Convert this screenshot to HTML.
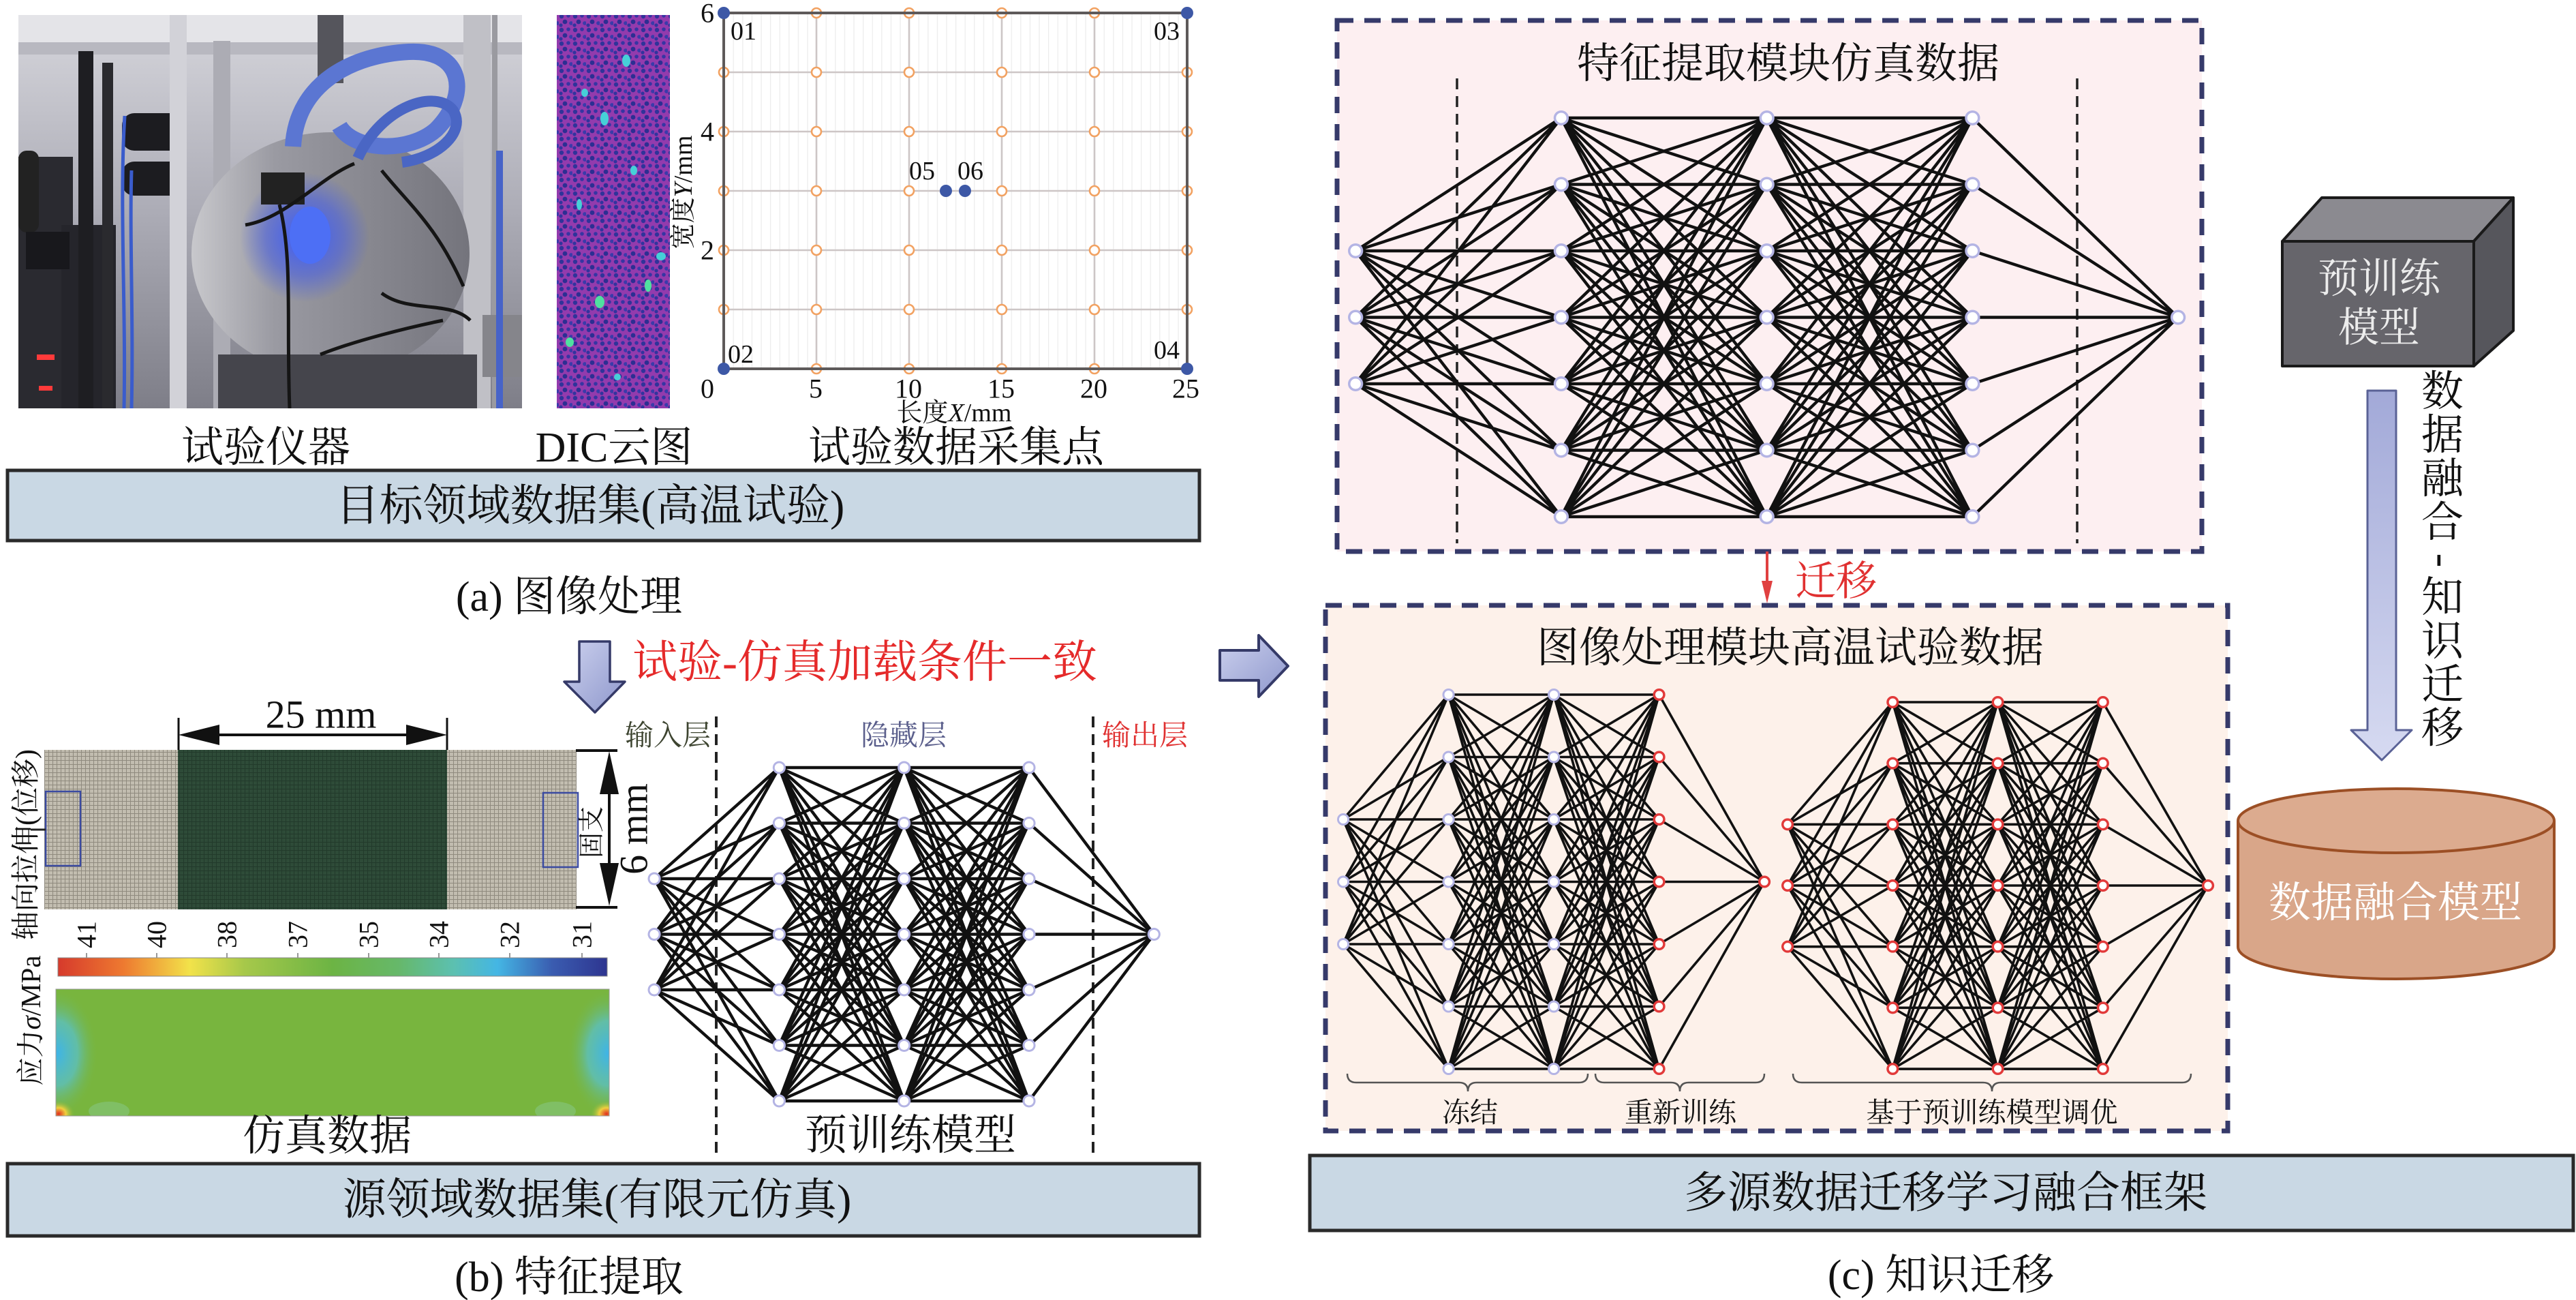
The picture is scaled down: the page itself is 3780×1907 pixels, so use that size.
<!DOCTYPE html>
<html><head><meta charset="utf-8">
<style>
html,body{margin:0;padding:0;background:#fff;}
svg{display:block;}
</style></head>
<body>
<svg width="3780" height="1907" viewBox="0 0 3780 1907" xmlns="http://www.w3.org/2000/svg" xmlns:xlink="http://www.w3.org/1999/xlink">
<defs>
<linearGradient id="cbar" x1="0" y1="0" x2="1" y2="0">
<stop offset="0" stop-color="#d63a2c"/><stop offset="0.12" stop-color="#ee7a30"/><stop offset="0.24" stop-color="#f2e24a"/><stop offset="0.34" stop-color="#a6c84a"/><stop offset="0.5" stop-color="#6cb444"/><stop offset="0.62" stop-color="#66b86a"/><stop offset="0.72" stop-color="#5cc0b0"/><stop offset="0.8" stop-color="#44b6e4"/><stop offset="0.9" stop-color="#3a5cb0"/><stop offset="1" stop-color="#2e3590"/>
</linearGradient>
<linearGradient id="arrG" x1="0" y1="0" x2="1" y2="1"><stop offset="0" stop-color="#ccd1ee"/><stop offset="1" stop-color="#8e97cc"/></linearGradient>
<linearGradient id="arrV" x1="0" y1="0" x2="0" y2="1"><stop offset="0" stop-color="#a2a9d8"/><stop offset="1" stop-color="#d6daf1"/></linearGradient>
<linearGradient id="pbg" x1="0" y1="0" x2="0" y2="1"><stop offset="0" stop-color="#d6d6dc"/><stop offset="0.5" stop-color="#acacb6"/><stop offset="1" stop-color="#7e7e88"/></linearGradient>
<linearGradient id="diskG" x1="0" y1="0" x2="1" y2="0"><stop offset="0" stop-color="#c8c8cc"/><stop offset="0.3" stop-color="#9a9aa2"/><stop offset="1" stop-color="#74747c"/></linearGradient>
<radialGradient id="glow"><stop offset="0" stop-color="#3a5cff"/><stop offset="0.6" stop-color="#4a60e0" stop-opacity="0.6"/><stop offset="1" stop-color="#4a60e0" stop-opacity="0"/></radialGradient>
<radialGradient id="cyan"><stop offset="0" stop-color="#3fb4e6"/><stop offset="0.5" stop-color="#5cc0c0" stop-opacity="0.8"/><stop offset="1" stop-color="#78b53e" stop-opacity="0"/></radialGradient>
<radialGradient id="hot"><stop offset="0" stop-color="#e03020"/><stop offset="0.45" stop-color="#f0d040"/><stop offset="1" stop-color="#78b53e" stop-opacity="0"/></radialGradient>
<pattern id="mesh" width="6" height="6" patternUnits="userSpaceOnUse"><rect width="6" height="6" fill="#c2bdb0"/><path d="M5.5 0V6M0 5.5H6" stroke="#8f8a7e" stroke-width="1"/></pattern>
<pattern id="meshg" width="6" height="6" patternUnits="userSpaceOnUse"><rect width="6" height="6" fill="#2e4b38"/><path d="M5.5 0V6M0 5.5H6" stroke="#223a2b" stroke-width="1"/></pattern>
<pattern id="dic" width="20" height="20" patternUnits="userSpaceOnUse"><rect width="20" height="20" fill="#9e3aab"/><circle cx="4" cy="4" r="3.2" fill="#2e3196"/><circle cx="14" cy="3" r="2.8" fill="#3534a0"/><circle cx="9" cy="12" r="3.4" fill="#2b2c8e"/><circle cx="18" cy="14" r="2.9" fill="#3a3aa8"/><circle cx="3" cy="17" r="2.6" fill="#31319a"/></pattern>
<pattern id="minor" x="1062" y="0" width="13.6" height="20" patternUnits="userSpaceOnUse"><rect width="13.6" height="20" fill="#fff"/><path d="M0.5 0V20" stroke="#ececec" stroke-width="1.5"/></pattern>
<clipPath id="pc"><rect x="27" y="22" width="739" height="577"/></clipPath>
<clipPath id="sc"><rect x="82" y="1451" width="812" height="186"/></clipPath>
<path id="E" fill="none" stroke="#111" stroke-linejoin="round" vector-effect="non-scaling-stroke" d="M0 2L1 0L0 2L1 1L0 2L1 2L0 2L1 3L0 2L1 4L0 2L1 5L0 2L1 6M0 3L1 0L0 3L1 1L0 3L1 2L0 3L1 3L0 3L1 4L0 3L1 5L0 3L1 6M0 4L1 0L0 4L1 1L0 4L1 2L0 4L1 3L0 4L1 4L0 4L1 5L0 4L1 6M1 0L2 0L1 0L2 1L1 0L2 2L1 0L2 3L1 0L2 4L1 0L2 5L1 0L2 6M1 1L2 0L1 1L2 1L1 1L2 2L1 1L2 3L1 1L2 4L1 1L2 5L1 1L2 6M1 2L2 0L1 2L2 1L1 2L2 2L1 2L2 3L1 2L2 4L1 2L2 5L1 2L2 6M1 3L2 0L1 3L2 1L1 3L2 2L1 3L2 3L1 3L2 4L1 3L2 5L1 3L2 6M1 4L2 0L1 4L2 1L1 4L2 2L1 4L2 3L1 4L2 4L1 4L2 5L1 4L2 6M1 5L2 0L1 5L2 1L1 5L2 2L1 5L2 3L1 5L2 4L1 5L2 5L1 5L2 6M1 6L2 0L1 6L2 1L1 6L2 2L1 6L2 3L1 6L2 4L1 6L2 5L1 6L2 6M2 0L3 0L2 0L3 1L2 0L3 2L2 0L3 3L2 0L3 4L2 0L3 5L2 0L3 6M2 1L3 0L2 1L3 1L2 1L3 2L2 1L3 3L2 1L3 4L2 1L3 5L2 1L3 6M2 2L3 0L2 2L3 1L2 2L3 2L2 2L3 3L2 2L3 4L2 2L3 5L2 2L3 6M2 3L3 0L2 3L3 1L2 3L3 2L2 3L3 3L2 3L3 4L2 3L3 5L2 3L3 6M2 4L3 0L2 4L3 1L2 4L3 2L2 4L3 3L2 4L3 4L2 4L3 5L2 4L3 6M2 5L3 0L2 5L3 1L2 5L3 2L2 5L3 3L2 5L3 4L2 5L3 5L2 5L3 6M2 6L3 0L2 6L3 1L2 6L3 2L2 6L3 3L2 6L3 4L2 6L3 5L2 6L3 6M4 3L3 0L4 3L3 1L4 3L3 2L4 3L3 3L4 3L3 4L4 3L3 5L4 3L3 6"/>
<path id="nl" fill="none" stroke-linecap="round" vector-effect="non-scaling-stroke" d="M0 2h.001M0 3h.001M0 4h.001M1 0h.001M1 1h.001M1 2h.001M1 3h.001M1 4h.001M1 5h.001M1 6h.001M2 0h.001M2 1h.001M2 2h.001M2 3h.001M2 4h.001M2 5h.001M2 6h.001"/>
<path id="nr" fill="none" stroke-linecap="round" vector-effect="non-scaling-stroke" d="M3 0h.001M3 1h.001M3 2h.001M3 3h.001M3 4h.001M3 5h.001M3 6h.001M4 3h.001"/>
<circle id="oc" r="7" fill="#fff" stroke="#f2a262" stroke-width="2.6"/>
</defs>

<!-- ================= (a) ================= -->
<g clip-path="url(#pc)">
<rect x="27" y="22" width="739" height="577" fill="url(#pbg)"/>
<rect x="27" y="22" width="739" height="40" fill="#e4e4e8"/>
<rect x="27" y="62" width="739" height="18" fill="#b8b8c0"/>
<rect x="27" y="230" width="80" height="369" fill="#2a2a30"/>
<rect x="90" y="330" width="80" height="269" fill="#25252b"/>
<rect x="115" y="75" width="22" height="524" fill="#1e1e22"/>
<rect x="150" y="92" width="16" height="507" fill="#2a2a2e"/>
<rect x="179" y="166" width="89" height="55" rx="18" fill="#1c1c20"/>
<rect x="179" y="237" width="89" height="50" rx="18" fill="#1c1c20"/>
<rect x="27" y="221" width="30" height="120" rx="12" fill="#222"/>
<rect x="38" y="340" width="64" height="55" fill="#18181c"/>
<path d="M183 170C175 300 185 450 182 599M193 250C190 350 196 470 193 599" stroke="#3a5ccc" stroke-width="5" fill="none"/>
<rect x="54" y="520" width="26" height="8" fill="#ff3a3a"/>
<rect x="57" y="566" width="20" height="7" fill="#ff3a3a"/>
<rect x="249" y="22" width="25" height="577" fill="#d2d2d8"/>
<rect x="313" y="60" width="25" height="539" fill="#acacb4"/>
<rect x="680" y="22" width="40" height="577" fill="#c0c0c6"/>
<rect x="722" y="22" width="8" height="577" fill="#9a9aa0"/>
<ellipse cx="485" cy="372" rx="204" ry="178" fill="url(#diskG)"/>
<rect x="320" y="520" width="380" height="79" fill="#45454c"/>
<rect x="708" y="462" width="58" height="91" fill="#85858b"/>
<circle cx="447" cy="348" r="95" fill="url(#glow)"/>
<ellipse cx="455" cy="345" rx="30" ry="42" fill="#4d6ff5"/>
<rect x="383" y="253" width="64" height="47" fill="#222"/>
<path d="M410 300C430 380 420 470 425 599M560 430C600 460 660 440 690 470M470 520C520 500 600 480 650 470M360 330C420 320 470 260 520 240M560 250C600 300 640 330 680 420" stroke="#151515" stroke-width="5" fill="none"/>
<rect x="466" y="22" width="38" height="100" fill="#55555c"/>
<path d="M430 215C435 120 520 80 600 76C680 72 690 140 640 190C600 225 520 222 498 185" stroke="#5b76d2" stroke-width="24" fill="none"/>
<path d="M525 232C560 155 640 130 665 162C685 195 640 232 590 238" stroke="#4a66c4" stroke-width="16" fill="none"/>
<path d="M733 221V599" stroke="#4763c8" stroke-width="10"/>
</g>

<!-- DIC -->
<rect x="817" y="22" width="166" height="577" fill="url(#dic)"/>
<rect x="817" y="22" width="166" height="577" fill="#3a40c0" opacity="0.1"/>
<g fill="#46d0d8">
<ellipse cx="919" cy="89" rx="6" ry="9"/><ellipse cx="858" cy="136" rx="5" ry="6"/><ellipse cx="887" cy="174" rx="6" ry="10"/>
<ellipse cx="970" cy="376" rx="7" ry="6"/><ellipse cx="880" cy="443" rx="7" ry="9" fill="#50e0a0"/><ellipse cx="951" cy="419" rx="5" ry="9" fill="#50e0a0"/>
<ellipse cx="836" cy="502" rx="6" ry="7" fill="#50e0a0"/><ellipse cx="906" cy="553" rx="5" ry="5"/><ellipse cx="850" cy="300" rx="4" ry="8"/><ellipse cx="930" cy="250" rx="5" ry="7"/>
</g>

<!-- plot -->
<rect x="1062" y="19" width="680" height="522" fill="url(#minor)"/>
<g stroke="#cdc6c6" stroke-width="2.6">
<path d="M1198 19V541M1334 19V541M1470 19V541M1606 19V541"/>
<path d="M1062 106H1742M1062 193H1742M1062 280H1742M1062 367H1742M1062 454H1742"/>
</g>
<g>
<use href="#oc" x="1198" y="106"/><use href="#oc" x="1334" y="106"/><use href="#oc" x="1470" y="106"/><use href="#oc" x="1606" y="106"/>
<use href="#oc" x="1198" y="193"/><use href="#oc" x="1334" y="193"/><use href="#oc" x="1470" y="193"/><use href="#oc" x="1606" y="193"/>
<use href="#oc" x="1198" y="280"/><use href="#oc" x="1334" y="280"/><use href="#oc" x="1470" y="280"/><use href="#oc" x="1606" y="280"/>
<use href="#oc" x="1198" y="367"/><use href="#oc" x="1334" y="367"/><use href="#oc" x="1470" y="367"/><use href="#oc" x="1606" y="367"/>
<use href="#oc" x="1198" y="454"/><use href="#oc" x="1334" y="454"/><use href="#oc" x="1470" y="454"/><use href="#oc" x="1606" y="454"/>
<use href="#oc" x="1062" y="106"/><use href="#oc" x="1062" y="193"/><use href="#oc" x="1062" y="280"/><use href="#oc" x="1062" y="367"/><use href="#oc" x="1062" y="454"/>
<use href="#oc" x="1742" y="106"/><use href="#oc" x="1742" y="193"/><use href="#oc" x="1742" y="280"/><use href="#oc" x="1742" y="367"/><use href="#oc" x="1742" y="454"/>
<use href="#oc" x="1198" y="19"/><use href="#oc" x="1334" y="19"/><use href="#oc" x="1470" y="19"/><use href="#oc" x="1606" y="19"/>
<use href="#oc" x="1198" y="541"/><use href="#oc" x="1334" y="541"/><use href="#oc" x="1470" y="541"/><use href="#oc" x="1606" y="541"/>
</g>
<rect x="1062" y="19" width="680" height="522" fill="none" stroke="#5e5a5a" stroke-width="4"/>
<g fill="#3d58a6">
<circle cx="1062" cy="19" r="9"/><circle cx="1742" cy="19" r="9"/><circle cx="1062" cy="541" r="9"/><circle cx="1742" cy="541" r="9"/><circle cx="1388" cy="280" r="9"/><circle cx="1416" cy="280" r="9"/>
</g>

<g font-family="'Liberation Serif','Noto Serif CJK SC',serif" fill="#111" text-anchor="middle" dominant-baseline="central">
<g font-size="38">
<text x="1091" y="46">01</text><text x="1712" y="46">03</text><text x="1087" y="520">02</text><text x="1712" y="514">04</text><text x="1353" y="251">05</text><text x="1424" y="251">06</text>
</g>
<g font-size="40">
<text x="1038" y="19">6</text><text x="1038" y="193">4</text><text x="1038" y="367">2</text>
<text x="1038" y="570">0</text><text x="1197" y="570">5</text><text x="1333" y="570">10</text><text x="1469" y="570">15</text><text x="1605" y="570">20</text><text x="1740" y="570">25</text>
</g>
<text x="1400" y="606" font-size="38">长度<tspan font-style="italic">X</tspan>/mm</text>
<text transform="translate(1003,282) rotate(-90)" font-size="38">宽度<tspan font-style="italic">Y</tspan>/mm</text>

<g font-size="62">
<text x="390" y="657">试验仪器</text>
<text x="901" y="657">DIC云图</text>
<text x="1403" y="657">试验数据采集点</text>
</g>
</g>

<rect x="11" y="690" width="1749" height="103" fill="#c9d8e4" stroke="#2a2a2a" stroke-width="5"/>
<g font-family="'Liberation Serif','Noto Serif CJK SC',serif" fill="#111" text-anchor="middle" dominant-baseline="central">
<text x="866" y="742" font-size="64">目标领域数据集(高温试验)</text>
<text x="835" y="876" font-size="62">(a) 图像处理</text>
</g>

<!-- ================= (b) ================= -->
<polygon points="850,941 895,941 895,1000 917,1000 873,1045 828,1000 850,1000" fill="url(#arrG)" stroke="#353a68" stroke-width="3.5" stroke-linejoin="round"/>
<text x="928" y="972" font-size="66" fill="#e52a2a" font-family="'Liberation Serif','Noto Serif CJK SC',serif" dominant-baseline="central">试验-仿真加载条件一致</text>

<!-- mesh -->
<rect x="65" y="1100" width="781" height="234" fill="url(#mesh)"/>
<rect x="261" y="1100" width="395" height="234" fill="url(#meshg)"/>
<rect x="67" y="1161" width="51" height="109" fill="none" stroke="#3a4aa0" stroke-width="2.5"/>
<rect x="797" y="1163" width="51" height="109" fill="none" stroke="#3a4aa0" stroke-width="2.5"/>
<path d="M45 1217H67" stroke="#222" stroke-width="3"/>
<!-- 25 mm dim -->
<path d="M262 1053V1100M656 1053V1100" stroke="#111" stroke-width="3"/>
<path d="M300 1078H620" stroke="#111" stroke-width="4"/>
<polygon points="262,1078 322,1063 322,1093" fill="#111"/>
<polygon points="656,1078 596,1063 596,1093" fill="#111"/>
<!-- 6 mm dim -->
<path d="M845 1101H906M845 1331H906" stroke="#111" stroke-width="4"/>
<path d="M894 1140V1290" stroke="#111" stroke-width="4"/>
<polygon points="894,1102 880,1165 908,1165" fill="#111"/>
<polygon points="894,1329 880,1266 908,1266" fill="#111"/>

<!-- colorbar -->
<rect x="85" y="1405" width="806" height="27" fill="url(#cbar)" stroke="#888" stroke-width="1"/>
<path d="M127 1398V1405M230 1398V1405M333 1398V1405M437 1398V1405M541 1398V1405M644 1398V1405M748 1398V1405M854 1398V1405" stroke="#999" stroke-width="2"/>
<!-- stress field -->
<rect x="82" y="1451" width="812" height="186" fill="#78b53e"/>
<g clip-path="url(#sc)">
<ellipse cx="84" cy="1545" rx="60" ry="95" fill="url(#cyan)"/>
<ellipse cx="892" cy="1545" rx="60" ry="95" fill="url(#cyan)"/>
<ellipse cx="86" cy="1634" rx="24" ry="20" fill="url(#hot)"/>
<ellipse cx="890" cy="1634" rx="24" ry="20" fill="url(#hot)"/>
<ellipse cx="160" cy="1630" rx="30" ry="14" fill="#8fd0b0" opacity="0.35"/>
<ellipse cx="815" cy="1630" rx="30" ry="14" fill="#8fd0b0" opacity="0.35"/>
</g>
<rect x="82" y="1451" width="812" height="186" fill="none" stroke="#999" stroke-width="1"/>

<g font-family="'Liberation Serif','Noto Serif CJK SC',serif" fill="#111" text-anchor="middle" dominant-baseline="central">
<text x="471" y="1048" font-size="58">25 mm</text>
<text transform="translate(930,1216) rotate(-90)" font-size="58">6 mm</text>
<text transform="translate(39,1239) rotate(-90)" font-size="42">轴向拉伸(位移)</text>
<text transform="translate(869,1221) rotate(-90)" font-size="38">固支</text>
<g font-size="40">
<text transform="translate(127,1371) rotate(-90)">41</text>
<text transform="translate(230,1371) rotate(-90)">40</text>
<text transform="translate(333,1371) rotate(-90)">38</text>
<text transform="translate(437,1371) rotate(-90)">37</text>
<text transform="translate(541,1371) rotate(-90)">35</text>
<text transform="translate(644,1371) rotate(-90)">34</text>
<text transform="translate(748,1371) rotate(-90)">32</text>
<text transform="translate(854,1371) rotate(-90)">31</text>
</g>
<text transform="translate(45,1497) rotate(-90)" font-size="41">应力<tspan font-style="italic">σ</tspan>/MPa</text>
<text x="480" y="1667" font-size="62">仿真数据</text>
<text x="980" y="1080" font-size="42" fill="#3d4430">输入层</text>
<text x="1326" y="1080" font-size="42" fill="#5b5f8c">隐藏层</text>
<text x="1680" y="1080" font-size="42" fill="#e03030">输出层</text>
<text x="1336" y="1666" font-size="62">预训练模型</text>
</g>

<!-- NN (b) -->
<path d="M1051 1051V1700M1604 1051V1700" stroke="#222" stroke-width="4" stroke-dasharray="16 10"/>
<g transform="translate(960,1126) scale(183.3,81.5)">
<use href="#E" stroke-width="4.4"/>
<use href="#nl" stroke="#b4b4e4" stroke-width="19"/><use href="#nl" stroke="#fff" stroke-width="13"/>
<use href="#nr" stroke="#b4b4e4" stroke-width="19"/><use href="#nr" stroke="#fff" stroke-width="13"/>
</g>

<rect x="11" y="1707" width="1749" height="106" fill="#c9d8e4" stroke="#2a2a2a" stroke-width="5"/>
<g font-family="'Liberation Serif','Noto Serif CJK SC',serif" fill="#111" text-anchor="middle" dominant-baseline="central">
<text x="876" y="1760" font-size="64">源领域数据集(有限元仿真)</text>
<text x="835" y="1874" font-size="62">(b) 特征提取</text>
</g>

<!-- ================= (c) ================= -->
<polygon points="1790,954 1847,954 1847,932 1890,977 1847,1022 1847,998 1790,998" fill="url(#arrG)" stroke="#353a68" stroke-width="4" stroke-linejoin="round"/>

<rect x="1962" y="30" width="1269" height="779" fill="#fdeff1" stroke="#363a6a" stroke-width="7" stroke-dasharray="24 16"/>
<path d="M2138 115V797M3048 115V797" stroke="#222" stroke-width="3.5" stroke-dasharray="16 10"/>
<g transform="translate(1989,173) scale(301.75,97.5)">
<use href="#E" stroke-width="4.4"/>
<use href="#nl" stroke="#b4b4e4" stroke-width="22"/><use href="#nl" stroke="#fff" stroke-width="15"/>
<use href="#nr" stroke="#b4b4e4" stroke-width="22"/><use href="#nr" stroke="#fff" stroke-width="15"/>
</g>

<!-- red arrow -->
<path d="M2593 809V858" stroke="#e04040" stroke-width="4"/>
<polygon points="2585,852 2601,852 2593,885" fill="#e04040"/>

<rect x="1945" y="888" width="1324" height="771" fill="#fdf1ea" stroke="#363a6a" stroke-width="7" stroke-dasharray="24 16"/>
<g transform="translate(1971,1019) scale(154.5,91.5)">
<use href="#E" stroke-width="3.6"/>
<use href="#nl" stroke="#b4b4e4" stroke-width="18"/><use href="#nl" stroke="#fff" stroke-width="12"/>
<use href="#nr" stroke="#e23a3a" stroke-width="18"/><use href="#nr" stroke="#fff" stroke-width="11"/>
</g>
<g transform="translate(2623,1030) scale(154.25,89.67)">
<use href="#E" stroke-width="3.6"/>
<use href="#nl" stroke="#e23a3a" stroke-width="18"/><use href="#nl" stroke="#fff" stroke-width="11"/>
<use href="#nr" stroke="#e23a3a" stroke-width="18"/><use href="#nr" stroke="#fff" stroke-width="11"/>
</g>
<!-- braces -->
<g fill="none" stroke="#555" stroke-width="2.5">
<path d="M1977 1575Q1977 1588 1990 1588L2141 1588Q2154 1588 2154 1601Q2154 1588 2167 1588L2317 1588Q2330 1588 2330 1575"/>
<path d="M2341 1575Q2341 1588 2354 1588L2452 1588Q2465 1588 2465 1601Q2465 1588 2478 1588L2576 1588Q2589 1588 2589 1575"/>
<path d="M2631 1575Q2631 1588 2644 1588L2910 1588Q2923 1588 2923 1601Q2923 1588 2936 1588L3202 1588Q3215 1588 3215 1575"/>
</g>

<!-- cube -->
<g stroke="#1a1a1a" stroke-width="4" stroke-linejoin="round">
<polygon points="3349,354 3407,290 3688,290 3630,354" fill="#8b8a90"/>
<polygon points="3630,354 3688,290 3688,485 3630,537" fill="#56565c"/>
<rect x="3349" y="354" width="281" height="183" fill="#66656b"/>
</g>
<!-- vertical arrow -->
<polygon points="3474,573 3516,573 3516,1071 3539,1071 3495,1115 3450,1071 3474,1071" fill="url(#arrV)" stroke="#5a6296" stroke-width="3" stroke-linejoin="round"/>
<!-- cylinder -->
<path d="M3284 1204V1389A232 47 0 0 0 3748 1389V1204" fill="#d9a689" stroke="#9c4f25" stroke-width="4"/>
<ellipse cx="3516" cy="1204" rx="232" ry="47" fill="#dcab8f" stroke="#9c4f25" stroke-width="4"/>

<g font-family="'Liberation Serif','Noto Serif CJK SC',serif" fill="#111" text-anchor="middle" dominant-baseline="central">
<text x="2624" y="94" font-size="62">特征提取模块仿真数据</text>
<text x="2694" y="853" font-size="60" fill="#e03030">迁移</text>
<text x="2627" y="951" font-size="62">图像处理模块高温试验数据</text>
<g font-size="41">
<text x="2157" y="1632">冻结</text>
<text x="2466" y="1632">重新训练</text>
<text x="2923" y="1632">基于预训练模型调优</text>
</g>
<text x="3491" y="409" font-size="60" fill="#ececec">预训练</text>
<text x="3491" y="481" font-size="60" fill="#ececec">模型</text>
<text x="3515" y="1325" font-size="62" fill="#fff">数据融合模型</text>
<g font-size="62">
<text x="3584" y="575">数</text><text x="3584" y="639">据</text><text x="3584" y="703">融</text><text x="3584" y="767">合</text>
<text transform="translate(3584,822) rotate(90)">-</text>
<text x="3584" y="877">知</text><text x="3584" y="941">识</text><text x="3584" y="1005">迁</text><text x="3584" y="1069">移</text>
</g>
</g>

<rect x="1922" y="1695" width="1854" height="110" fill="#c9d8e4" stroke="#2a2a2a" stroke-width="5"/>
<g font-family="'Liberation Serif','Noto Serif CJK SC',serif" fill="#111" text-anchor="middle" dominant-baseline="central">
<text x="2855" y="1750" font-size="64">多源数据迁移学习融合框架</text>
<text x="2848" y="1871" font-size="62">(c) 知识迁移</text>
</g>
</svg>
</body></html>
